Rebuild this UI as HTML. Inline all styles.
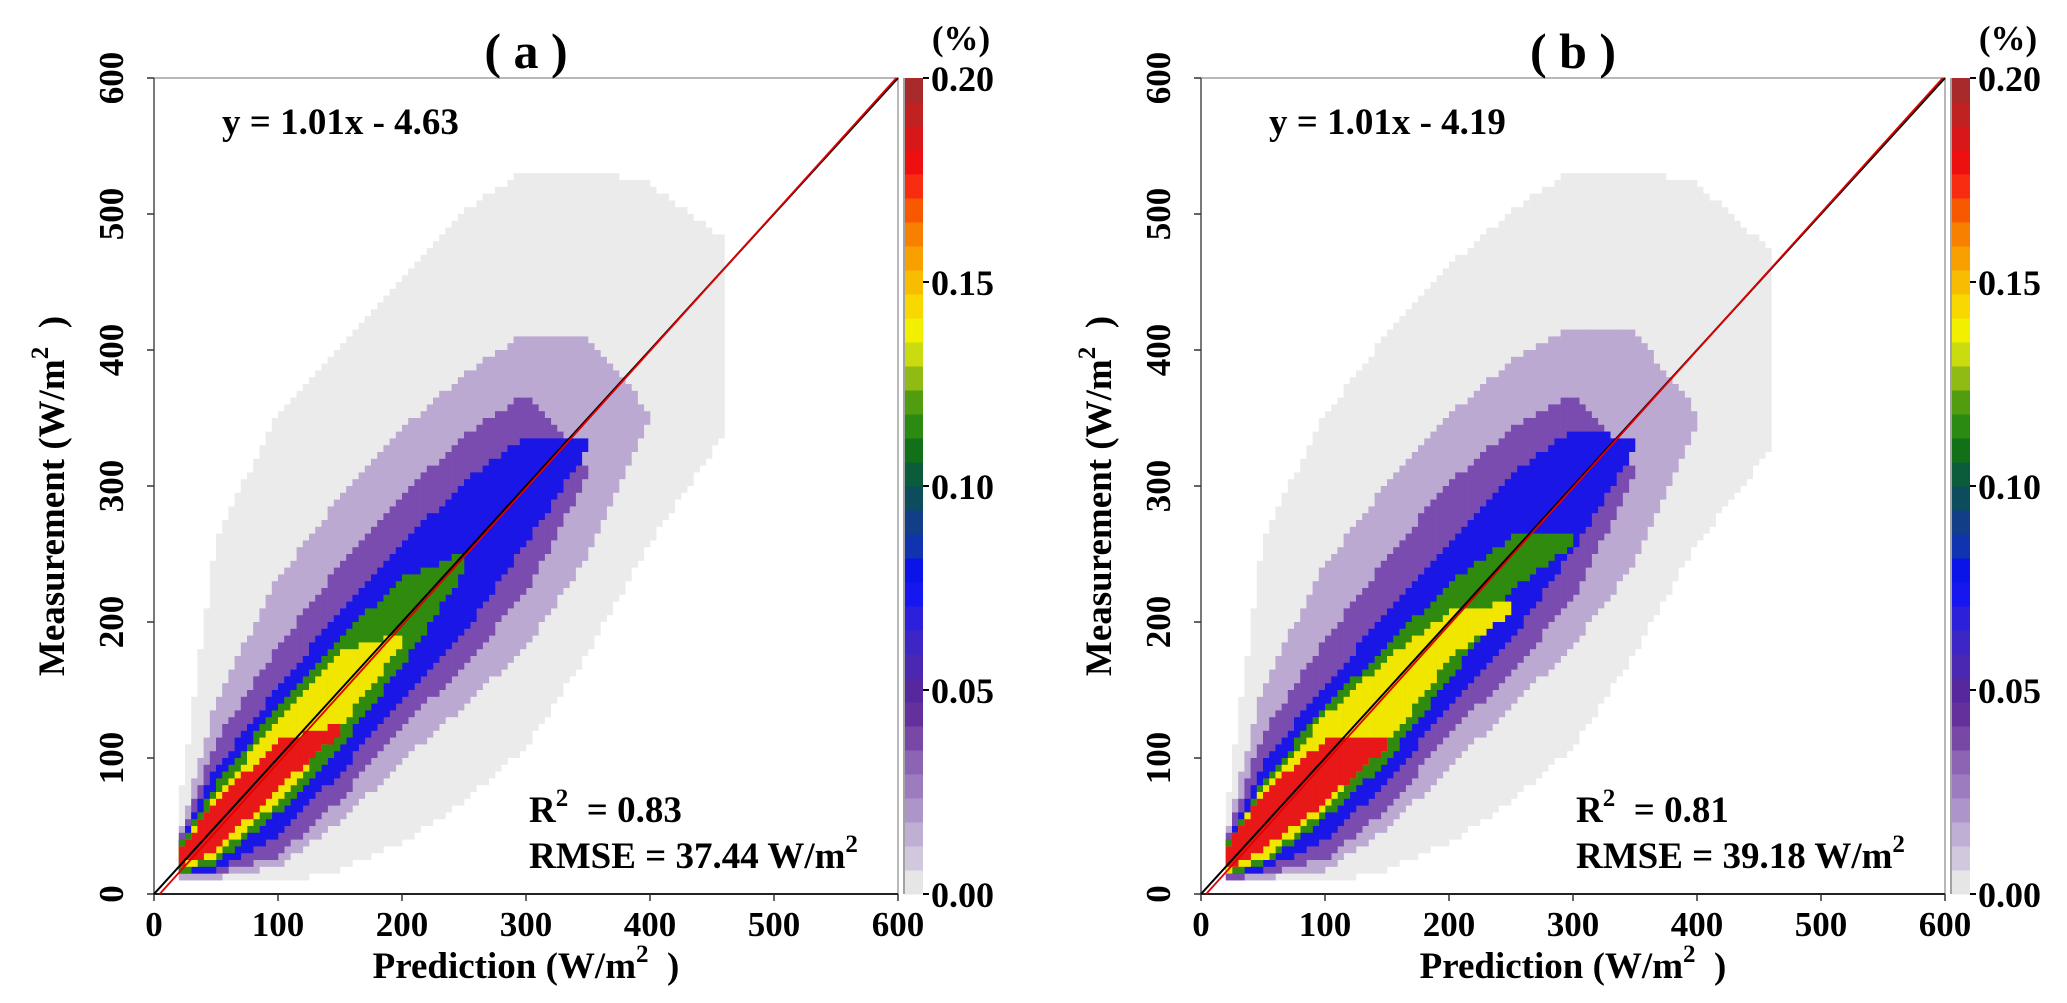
<!DOCTYPE html>
<html><head><meta charset="utf-8"><style>
html,body{margin:0;padding:0;background:#fff;}
svg{display:block;}
text{font-family:"Liberation Serif",serif;font-weight:bold;fill:#000;}
</style></head><body>
<svg id="chart" width="2067" height="1003" viewBox="0 0 2067 1003" xmlns="http://www.w3.org/2000/svg"></svg>
<script>
// ---- data ----
const xSamples = [20, 50, 100, 150, 200, 250, 300, 350, 400, 460];
const levelNames = ["gray", "lightpurple", "purple", "blue", "green", "yellow", "red"];
const levelColors = ["#ebebeb", "#bba9d2", "#7b4cb0", "#1a16e6", "#2f8a0e", "#f0e600", "#e81818"];
// panel a: lower/upper measurement bounds per density level at each prediction sample
const aGrayLo = [12, 12, 10, 20, 40, 70, 110, 180, 260, 340];
const aGrayHi = [60, 260, 350, 400, 450, 500, 530, 530, 520, 480];
const aLpLo = [13, 14, 22, 55, 100, 140, 185, 250, 350, null];
const aLpHi = [40, 140, 230, 290, 340, 380, 410, 405, 352, null];
const aPuLo = [15, 18, 30, 72, 125, 170, 225, 310, null, null];
const aPuHi = [36, 110, 180, 240, 290, 335, 365, 312, null, null];
const aBlLo = [15, 20, 45, 92, 145, 195, 260, 330, null, null];
const aBlHi = [34, 90, 150, 205, 255, 300, 335, 332, null, null];
const aGrLo = [18, 25, 62, 110, 170, 240, null, null, null, null];
const aGrHi = [32, 78, 135, 185, 230, 248, null, null, null, null];
const aYeLo = [20, 30, 70, 125, 185, null, null, null, null, null];
const aYeHi = [30, 70, 125, 175, 190, null, null, null, null, null];
const aReLo = [22, 35, 80, 120, null, null, null, null, null, null];
const aReHi = [30, 65, 110, 122, null, null, null, null, null, null];
// panel b
const bGrayLo = [12, 12, 10, 20, 40, 70, 110, 180, 260, 330];
const bGrayHi = [55, 260, 350, 410, 460, 500, 530, 530, 520, 470];
const bLpLo = [12, 14, 20, 50, 95, 140, 185, 245, 350, null];
const bLpHi = [40, 150, 240, 300, 350, 390, 415, 410, 352, null];
const bPuLo = [14, 16, 28, 65, 120, 165, 220, 310, null, null];
const bPuHi = [36, 115, 185, 245, 300, 340, 365, 312, null, null];
const bBlLo = [15, 20, 42, 85, 140, 190, 255, 330, null, null];
const bBlHi = [34, 95, 150, 205, 255, 305, 340, 332, null, null];
const bGrLo = [17, 24, 58, 100, 160, 225, 260, null, null, null];
const bGrHi = [32, 80, 135, 180, 225, 260, 262, null, null, null];
const bYeLo = [18, 28, 65, 112, 175, 210, null, null, null, null];
const bYeHi = [30, 75, 128, 170, 205, 212, null, null, null, null];
const bReLo = [20, 35, 70, 110, null, null, null, null, null, null];
const bReHi = [30, 72, 110, 112, null, null, null, null, null, null];
const axisTicks = [0, 100, 200, 300, 400, 500, 600];
const cbTicks = [0.00, 0.05, 0.10, 0.15, 0.20];
const cbColors = ["#e6e6e6","#d2c8de","#c0afd5","#ad95c9","#9c7cbe","#8b64b3","#7748a6","#64309c","#55289e","#4a28b2","#3c26c6","#2c20da","#1616f0","#0a14e8","#1034b0","#123e88","#0c4c5c","#0a5c3a","#127018","#2a8a12","#529c10","#90ba14","#cadc10","#f2f000","#f8d800","#f8bc00","#f8a000","#f88000","#f85800","#f82c10","#ee1010","#d81818","#c02222","#a82a2a"];
const fitA = [1.01, -4.63];
const fitB = [1.01, -4.19];

// ---- drawing ----
const NS = "http://www.w3.org/2000/svg";
const svg = document.getElementById("chart");
function mk(tag, attrs, parent) {
  const e = document.createElementNS(NS, tag);
  for (const k in attrs) e.setAttribute(k, attrs[k]);
  (parent || svg).appendChild(e);
  return e;
}
const PW = 744, PH = 816, TOP = 78;
function interp(arr, x) {
  for (let i = 0; i < xSamples.length - 1; i++) {
    if (x >= xSamples[i] && x < xSamples[i + 1]) {
      const a = arr[i], b = arr[i + 1];
      if (a === null || b === null) return null;
      const t = (x - xSamples[i]) / (xSamples[i + 1] - xSamples[i]);
      return a + (b - a) * t;
    }
  }
  return null;
}
function drawPanel(left, label, levels, fit, eqText, r2Text, rmseText) {
  const sx = v => left + v / 600 * PW;
  const sy = v => TOP + PH - v / 600 * PH;
  const g = mk("g", {});
  
  
  const hm = mk("g", {}, g);
  
  
  const bin = 5;
  levels.forEach((lv, li) => {
    for (let c = 0; c < 600; c += bin) {
      const cx = c + bin / 2;
      const lo = interp(lv[0], cx), hi = interp(lv[1], cx);
      if (lo === null || hi === null || hi - lo < 2) continue;
      const y0 = Math.floor(lo / bin) * bin, y1 = Math.ceil(hi / bin) * bin;
      const r = mk("rect", {x: sx(c), y: sy(y1), width: sx(c + bin) - sx(c) + 0.3, height: sy(y0) - sy(y1), fill: levelColors[li]}, hm);
      
      
    }
  });
  const fr = mk("rect", {x: left, y: TOP, width: PW, height: PH, fill: "none", stroke: "#888", "stroke-width": 1.2}, g);
  
  
  mk("line", {x1: left, y1: TOP + PH, x2: left + PW, y2: TOP + PH, stroke: "#222", "stroke-width": 2}, g);
  mk("line", {x1: left, y1: TOP, x2: left, y2: TOP + PH, stroke: "#555", "stroke-width": 1.5}, g);
  axisTicks.forEach(t => {
    mk("line", {x1: sx(t), y1: TOP + PH, x2: sx(t), y2: TOP + PH + 7, stroke: "#333", "stroke-width": 1.5}, g);
    const xt = mk("text", {x: sx(t), y: 936, "font-size": 35, "text-anchor": "middle"}, g);
    xt.textContent = t;
    
    
    mk("line", {x1: left - 7, y1: sy(t), x2: left, y2: sy(t), stroke: "#333", "stroke-width": 1.5}, g);
    const bx = left - 31;
    const yt = mk("text", {x: bx, y: sy(t), "font-size": 35, "text-anchor": "middle", transform: `rotate(-90 ${bx} ${sy(t)})`}, g);
    yt.textContent = t;
    
    
  });
  const l1 = mk("line", {x1: sx(0), y1: sy(0), x2: sx(600), y2: sy(600), stroke: "#000", "stroke-width": 2}, g);
  
  
  const x0 = -fit[1] / fit[0], x1 = Math.min(600, (600 - fit[1]) / fit[0]);
  const l2 = mk("line", {x1: sx(x0), y1: sy(0), x2: sx(x1), y2: sy(fit[0] * x1 + fit[1]), stroke: "#e00000", "stroke-width": 1.8}, g);
  
  
  const title = mk("text", {x: left + PW / 2, y: 68, "font-size": 50, "text-anchor": "middle"}, g);
  title.textContent = "( " + label + " )";
  
  
  const eq = mk("text", {x: left + 68, y: 134, "font-size": 37}, g);
  eq.textContent = eqText;
  
  
  const r2 = mk("text", {x: left + 375, y: 822, "font-size": 37}, g);
  r2.innerHTML = 'R<tspan font-size="25" dy="-16">2</tspan><tspan dy="16"> &#160;= ' + r2Text + '</tspan>';
  
  
  const rm = mk("text", {x: left + 375, y: 868, "font-size": 37}, g);
  rm.innerHTML = 'RMSE = ' + rmseText + ' W/m<tspan font-size="25" dy="-16">2</tspan>';
  
  
  const xl = mk("text", {x: left + PW / 2, y: 978, "font-size": 37, "text-anchor": "middle"}, g);
  xl.innerHTML = 'Prediction (W/m<tspan font-size="25" dy="-16">2</tspan><tspan dy="16"> &#160;)</tspan>';
  
  
  const yx = left - 90, yy = TOP + PH / 2 + 10;
  const yl = mk("text", {x: yx, y: yy, "font-size": 37, "text-anchor": "middle", transform: `rotate(-90 ${yx} ${yy})`}, g);
  yl.innerHTML = 'Measurement (W/m<tspan font-size="25" dy="-16">2</tspan><tspan dy="16"> &#160;)</tspan>';
  
  
  const cbx = left + PW + 7, cbw = 18;
  const cb = mk("g", {}, g);
  
  
  const segH = PH / cbColors.length;
  cbColors.forEach((c, i) => {
    const s = mk("rect", {x: cbx, y: TOP + PH - (i + 1) * segH, width: cbw, height: segH + 0.5, fill: c}, cb);
    
    
  });
  mk("line", {x1: cbx - 1, y1: TOP, x2: cbx - 1, y2: TOP + PH, stroke: "#444", "stroke-width": 1}, cb);
  const cy = v => TOP + PH - v / 0.20 * PH;
  cbTicks.forEach(t => {
    mk("line", {x1: cbx + cbw, y1: cy(t), x2: cbx + cbw + 6, y2: cy(t), stroke: "#000", "stroke-width": 2}, cb);
    const ct = mk("text", {x: cbx + cbw + 8, y: cy(t) + 13, "font-size": 36}, cb);
    ct.textContent = t.toFixed(2);
    
    
  });
  const pc = mk("text", {x: cbx + 56, y: 50, "font-size": 35, "text-anchor": "middle"}, cb);
  pc.textContent = "(%)";
  
  
}
const levelsA = [[aGrayLo, aGrayHi], [aLpLo, aLpHi], [aPuLo, aPuHi], [aBlLo, aBlHi], [aGrLo, aGrHi], [aYeLo, aYeHi], [aReLo, aReHi]];
const levelsB = [[bGrayLo, bGrayHi], [bLpLo, bLpHi], [bPuLo, bPuHi], [bBlLo, bBlHi], [bGrLo, bGrHi], [bYeLo, bYeHi], [bReLo, bReHi]];
drawPanel(154, "a", levelsA, fitA, "y = 1.01x - 4.63", "0.83", "37.44");
drawPanel(1201, "b", levelsB, fitB, "y = 1.01x - 4.19", "0.81", "39.18");
</script>
</body></html>
